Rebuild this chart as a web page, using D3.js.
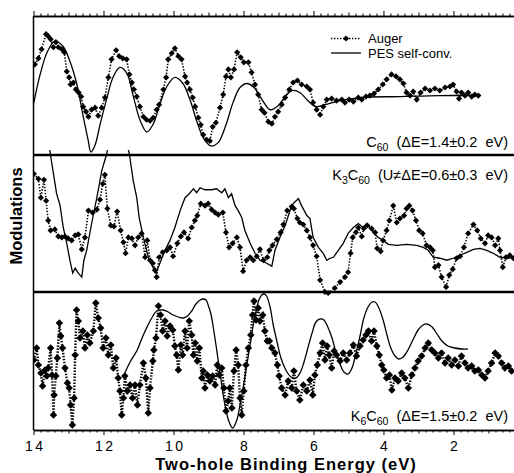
<!DOCTYPE html>
<html>
<head>
<meta charset="utf-8">
<script src="https://cdn.jsdelivr.net/npm/d3@7"></script>
<style>
body { margin:0; background:#fff; }
svg { display:block; font-family:"Liberation Sans", Arial, Helvetica, sans-serif; }
.auger { fill:none; stroke:#000; stroke-width:1.6; stroke-dasharray:1.4,1.6; }
.pes { fill:none; stroke:#000; stroke-width:1.3; }
.axis path, .axis line { stroke:#000; }
</style>
</head>
<body>
<div id="chart"></div>
<script>
const width = 514, height = 473;

// x tick labels (eV) and text
const xTickLabels = [14, 12, 10, 8, 6, 4, 2];
const legendLabels = ['Auger', 'PES self-conv.'];
const xTitle = 'Two-hole Binding Energy (eV)';
const yTitle = 'Modulations';
// [text, isSubscript]
const panelLabels = [
  [['C',0],['60',1],['  (ΔE=1.4±0.2  eV)',0]],
  [['K',0],['3',1],['C',0],['60',1],['  (U≠ΔE=0.6±0.3  eV)',0]],
  [['K',0],['6',1],['C',0],['60',1],['  (ΔE=1.5±0.2  eV)',0]]
];

// C60 : [energy eV, modulation a.u.]
const c60Auger = [[13.96,90],[13.86,96],[13.77,105],[13.64,120],[13.58,118],[13.51,115],[13.43,107],[13.36,112],[13.29,107],[13.19,105],[13.12,102],[13.05,83],[12.98,77],[12.94,70],[12.86,72],[12.79,65],[12.71,62],[12.64,58],[12.58,48],[12.50,43],[12.43,38],[12.34,45],[12.24,47],[12.15,39],[12.05,47],[11.96,57],[11.86,77],[11.77,95],[11.64,104],[11.55,98],[11.45,96],[11.34,95],[11.26,80],[11.19,72],[11.13,65],[11.05,58],[10.96,48],[10.86,38],[10.77,35],[10.67,34],[10.58,37],[10.48,45],[10.41,50],[10.29,65],[10.21,77],[10.15,95],[10.05,101],[9.96,106],[9.86,98],[9.77,95],[9.67,78],[9.61,72],[9.53,65],[9.45,57],[9.38,48],[9.29,37],[9.22,30],[9.15,20],[9.05,15],[8.96,14],[8.88,28],[8.79,32],[8.67,47],[8.58,60],[8.50,78],[8.43,85],[8.36,77],[8.27,85],[8.18,102],[8.08,97],[7.99,92],[7.86,92],[7.77,82],[7.67,70],[7.58,60],[7.48,45],[7.40,42],[7.29,33],[7.19,31],[7.10,38],[7.01,43],[6.91,50],[6.81,57],[6.69,65],[6.58,72],[6.46,74],[6.34,70],[6.19,68],[6.10,65],[6.01,52],[5.91,45],[5.81,40],[5.72,48],[5.62,55],[5.48,56],[5.34,54],[5.19,55],[5.10,52],[4.98,55],[4.86,53],[4.72,57],[4.62,55],[4.50,58],[4.39,59],[4.27,61],[4.15,65],[4.02,70],[3.91,75],[3.77,80],[3.64,78],[3.53,75],[3.43,71],[3.34,62],[3.24,59],[3.15,63],[3.05,55],[2.94,62],[2.81,66],[2.67,64],[2.53,66],[2.39,64],[2.24,67],[2.10,68],[2.01,70],[1.91,63],[1.84,56],[1.77,62],[1.67,59],[1.58,62],[1.48,58],[1.39,60],[1.29,59]];
const c60Pes = [[13.99,52],[13.81,80],[13.61,102],[13.39,113],[13.16,108],[12.96,93],[12.76,70],[12.59,40],[12.44,15],[12.36,3],[12.24,10],[12.10,30],[11.90,57],[11.73,77],[11.53,87],[11.33,81],[11.16,60],[10.96,35],[10.76,23],[10.59,30],[10.39,50],[10.19,68],[9.96,77],[9.73,71],[9.53,55],[9.33,33],[9.13,16],[8.93,9],[8.73,12],[8.50,30],[8.30,52],[8.10,67],[7.90,71],[7.70,67],[7.47,55],[7.24,45],[7.01,49],[6.81,58],[6.61,64],[6.39,62],[6.16,54],[5.93,48],[5.67,50],[5.24,54],[4.67,57],[3.53,58],[2.39,59],[1.47,59]];

// K3C60
const k3Auger = [[13.99,119],[13.86,114],[13.79,95],[13.70,113],[13.64,92],[13.58,72],[13.51,62],[13.39,63],[13.29,56],[13.19,55],[13.10,56],[13.01,54],[12.91,52],[12.81,57],[12.72,58],[12.62,43],[12.53,55],[12.43,82],[12.31,80],[12.19,83],[12.10,93],[12.02,109],[11.96,118],[11.89,84],[11.79,67],[11.70,66],[11.61,81],[11.51,62],[11.43,50],[11.37,39],[11.29,55],[11.19,54],[11.10,47],[11.01,55],[10.91,59],[10.81,35],[10.75,52],[10.67,32],[10.59,29],[10.53,22],[10.48,15],[10.41,35],[10.31,40],[10.19,42],[10.10,45],[10.01,36],[9.89,49],[9.79,56],[9.70,60],[9.58,54],[9.48,65],[9.39,72],[9.32,77],[9.22,89],[9.10,87],[9.01,89],[8.91,83],[8.81,80],[8.72,78],[8.59,80],[8.50,60],[8.41,45],[8.31,49],[8.19,55],[8.10,45],[8.01,21],[7.91,32],[7.81,35],[7.72,32],[7.62,36],[7.53,43],[7.43,32],[7.32,35],[7.26,42],[7.17,47],[7.05,53],[6.94,60],[6.86,68],[6.75,82],[6.62,86],[6.56,84],[6.46,74],[6.39,70],[6.29,68],[6.19,62],[6.10,55],[6.01,47],[5.91,36],[5.81,12],[5.67,0],[5.58,-1],[5.39,4],[5.24,10],[5.10,15],[5.01,20],[4.94,39],[4.88,55],[4.79,60],[4.72,65],[4.62,56],[4.56,64],[4.46,67],[4.34,64],[4.24,60],[4.18,44],[4.08,41],[4.01,52],[3.91,62],[3.83,72],[3.72,87],[3.62,70],[3.53,74],[3.41,77],[3.34,84],[3.26,87],[3.17,82],[3.07,72],[2.98,62],[2.88,59],[2.77,47],[2.67,45],[2.59,42],[2.53,25],[2.43,27],[2.34,15],[2.21,5],[2.12,17],[2.02,23],[1.91,34],[1.81,36],[1.70,45],[1.58,59],[1.43,68],[1.32,62],[1.22,54],[1.10,49],[1.01,57],[0.91,55],[0.81,47],[0.72,54],[0.67,42],[0.59,25],[0.50,35],[0.39,37],[0.29,34]];
const k3Pes = [[13.61,162],[13.51,137],[13.34,99],[13.24,87],[13.15,65],[13.05,49],[12.96,32],[12.88,19],[12.81,24],[12.72,19],[12.62,15],[12.56,32],[12.48,42],[12.34,69],[12.19,95],[12.05,122],[11.91,139],[11.81,157],[11.39,157],[11.26,139],[11.15,112],[11.05,95],[10.98,75],[10.86,55],[10.72,35],[10.59,25],[10.50,19],[10.39,29],[10.24,42],[10.10,52],[9.96,65],[9.81,82],[9.67,95],[9.55,99],[9.43,104],[9.34,100],[9.24,105],[9.10,103],[8.91,103],[8.77,104],[8.62,100],[8.53,104],[8.43,95],[8.34,99],[8.24,87],[8.15,82],[8.05,75],[7.96,62],[7.81,49],[7.67,39],[7.53,32],[7.39,30],[7.19,26],[7.10,42],[6.96,55],[6.81,67],[6.67,82],[6.58,89],[6.43,94],[6.34,87],[6.19,77],[6.10,74],[6.01,55],[5.86,45],[5.72,39],[5.62,32],[5.53,34],[5.43,35],[5.29,42],[5.15,49],[5.01,59],[4.86,65],[4.72,69],[4.58,65],[4.48,69],[4.29,60],[4.15,55],[4.01,52],[3.86,48],[3.62,47],[3.34,48],[3.05,47],[2.86,45],[2.72,42],[2.58,35],[2.39,34],[2.19,32],[2.01,34],[1.81,37],[1.62,40],[1.43,43],[1.24,44],[1.05,42],[0.86,39],[0.67,35],[0.43,34],[0.29,36]];

// K6C60
const k6Auger = [[13.99,70],[13.91,82],[13.86,65],[13.79,57],[13.74,44],[13.67,60],[13.62,54],[13.58,62],[13.51,82],[13.47,55],[13.43,15],[13.41,35],[13.36,54],[13.32,72],[13.26,107],[13.22,94],[13.17,82],[13.10,62],[13.03,47],[12.98,42],[12.94,25],[12.89,5],[12.84,32],[12.81,75],[12.77,120],[12.72,109],[12.67,92],[12.59,99],[12.53,82],[12.46,95],[12.39,87],[12.29,99],[12.22,127],[12.15,112],[12.08,102],[12.01,82],[11.93,92],[11.86,75],[11.79,85],[11.72,62],[11.64,72],[11.58,52],[11.53,39],[11.48,15],[11.43,32],[11.39,54],[11.32,39],[11.24,45],[11.17,32],[11.10,45],[11.03,25],[10.96,45],[10.86,67],[10.79,52],[10.72,17],[10.67,42],[10.59,69],[10.56,80],[10.50,92],[10.43,124],[10.37,115],[10.31,99],[10.24,109],[10.18,94],[10.10,104],[10.02,100],[9.96,84],[9.91,75],[9.86,60],[9.79,85],[9.74,75],[9.67,99],[9.61,82],[9.55,109],[9.48,95],[9.43,75],[9.38,87],[9.32,69],[9.26,82],[9.19,52],[9.15,59],[9.10,42],[9.03,55],[8.96,49],[8.88,54],[8.81,45],[8.75,65],[8.69,55],[8.62,62],[8.56,42],[8.50,19],[8.44,29],[8.39,42],[8.33,22],[8.27,59],[8.21,80],[8.15,65],[8.10,32],[8.05,15],[7.99,39],[7.93,65],[7.86,82],[7.79,95],[7.74,115],[7.70,129],[7.64,110],[7.58,122],[7.53,109],[7.45,115],[7.39,99],[7.32,89],[7.26,89],[7.19,82],[7.10,77],[7.03,65],[6.98,54],[6.91,42],[6.81,35],[6.72,49],[6.62,42],[6.56,59],[6.48,39],[6.39,30],[6.29,45],[6.19,39],[6.10,50],[6.02,35],[5.96,55],[5.89,65],[5.81,77],[5.74,87],[5.67,70],[5.61,84],[5.55,75],[5.48,62],[5.41,79],[5.34,75],[5.24,69],[5.15,77],[5.05,70],[4.96,77],[4.86,85],[4.77,74],[4.67,84],[4.58,90],[4.50,95],[4.43,99],[4.34,89],[4.27,99],[4.19,84],[4.12,75],[4.05,65],[3.99,60],[3.91,52],[3.83,55],[3.76,40],[3.67,52],[3.58,49],[3.48,57],[3.39,52],[3.29,42],[3.19,55],[3.10,62],[3.01,69],[2.91,74],[2.81,82],[2.72,87],[2.62,80],[2.53,77],[2.43,72],[2.34,77],[2.24,67],[2.15,72],[2.05,65],[1.96,70],[1.86,64],[1.77,74],[1.67,67],[1.58,62],[1.48,64],[1.39,59],[1.29,60],[1.19,55],[1.10,52],[1.01,59],[0.91,67],[0.81,77],[0.72,74],[0.62,67],[0.53,62],[0.43,64],[0.34,59]];
const k6Pes = [[11.39,57],[11.24,68],[11.05,79],[10.91,91],[10.77,102],[10.62,112],[10.48,119],[10.29,120],[10.15,118],[10.01,115],[9.86,113],[9.72,112],[9.60,114],[9.48,119],[9.36,126],[9.24,130],[9.15,131],[9.07,130],[9.01,125],[8.93,116],[8.86,102],[8.79,86],[8.72,69],[8.65,52],[8.58,35],[8.51,22],[8.43,10],[8.31,2],[8.19,10],[8.10,25],[8.01,42],[7.91,64],[7.81,85],[7.72,105],[7.62,122],[7.56,130],[7.48,135],[7.41,136],[7.34,134],[7.24,123],[7.15,105],[7.04,88],[6.93,72],[6.79,60],[6.64,53],[6.50,52],[6.37,58],[6.27,68],[6.16,82],[6.04,97],[5.93,108],[5.81,111],[5.70,110],[5.59,103],[5.47,92],[5.36,78],[5.24,66],[5.13,58],[5.01,56],[4.90,62],[4.79,76],[4.67,94],[4.56,112],[4.44,123],[4.33,128],[4.24,128],[4.13,122],[4.01,110],[3.90,95],[3.79,82],[3.67,74],[3.56,71],[3.44,73],[3.30,80],[3.16,90],[3.01,100],[2.87,105],[2.76,106],[2.61,103],[2.47,96],[2.33,89],[2.16,84],[1.96,82],[1.76,81],[1.59,81]];

const series = [
  {auger: c60Auger, pes: c60Pes, pesCurve: d3.curveCatmullRom, mark: 19, dotW: 1.6},
  {auger: k3Auger, pes: k3Pes, pesCurve: d3.curveLinear, mark: 19, dotW: 1.6},
  {auger: k6Auger, pes: k6Pes, pesCurve: d3.curveCatmullRom, mark: 28, dotW: 2.4}
];

// layout
const plotLeft = 33.5, plotRight = 514;
const panels = [
  {top: 16, bottom: 155, labelY: 147},
  {top: 155, bottom: 292, labelY: 180},
  {top: 292, bottom: 430, labelY: 421}
];

const x = d3.scaleLinear().domain([14, 0.27]).range([plotLeft, plotRight]);

const svg = d3.select('#chart').append('svg')
  .attr('width', width)
  .attr('height', height);

panels.forEach((p, i) => {
  const y = d3.scaleLinear().domain([0, 138]).range([p.bottom, p.top]);
  const s = series[i];
  const diamond = d3.symbol().type(d3.symbolSquare).size(s.mark);

  svg.append('clipPath').attr('id', 'clip' + i)
    .append('rect')
    .attr('x', plotLeft).attr('y', p.top - 5)
    .attr('width', plotRight - plotLeft).attr('height', p.bottom - p.top + 10);

  const g = svg.append('g').attr('clip-path', 'url(#clip' + i + ')');

  const augerLine = d3.line().x(d => x(d[0])).y(d => y(d[1]));
  const pesLine = d3.line().x(d => x(d[0])).y(d => y(d[1])).curve(s.pesCurve);

  g.append('path').datum(s.pes).attr('class', 'pes').attr('d', pesLine);
  g.append('path').datum(s.auger).attr('class', 'auger').attr('d', augerLine)
    .style('stroke-width', s.dotW);

  g.selectAll('path.mark')
    .data(s.auger)
    .enter()
      .append('path')
      .attr('class', 'mark')
      .attr('d', diamond)
      .attr('transform', d => 'translate(' + x(d[0]) + ',' + y(d[1]) + ') rotate(45)')
      .attr('fill', '#000');

  // panel label
  const t = svg.append('text')
    .attr('x', 508).attr('y', p.labelY)
    .attr('text-anchor', 'end')
    .attr('font-size', 14.5)
    .style('white-space', 'pre');
  let down = false;
  panelLabels[i].forEach(part => {
    const ts = t.append('tspan').text(part[0]);
    if (part[1] && !down) { ts.attr('dy', 4).attr('font-size', 10.5); down = true; }
    else if (part[1]) { ts.attr('font-size', 10.5); }
    else if (down) { ts.attr('dy', -4); down = false; }
  });
});

// separators between panels
[panels[0].bottom, panels[1].bottom].forEach(yy => {
  svg.append('line')
    .attr('x1', plotLeft).attr('x2', plotRight)
    .attr('y1', yy).attr('y2', yy)
    .attr('stroke', '#000').attr('stroke-width', 2.6);
});

// left frame line
svg.append('line')
  .attr('x1', plotLeft).attr('x2', plotLeft)
  .attr('y1', panels[0].top).attr('y2', panels[2].bottom)
  .attr('stroke', '#000').attr('stroke-width', 1.5);

// tick sets
const minorTicks = d3.range(1, 71).map(i => i * 0.2).filter(v => Math.abs(v - Math.round(v)) > 0.01);
const oddTicks = d3.range(1, 14, 2);

function drawAxis(gen, yy) {
  const g = svg.append('g').attr('class', 'axis').attr('transform', 'translate(0,' + yy + ')');
  g.append('g').call(gen(x).tickValues(minorTicks).tickSize(2.5).tickSizeOuter(0));
  g.append('g').call(gen(x).tickValues(oddTicks).tickSize(3.5).tickSizeOuter(0));
  g.selectAll('text').remove();
  g.selectAll('path').attr('stroke-width', 1.5);
  return g;
}

const topG = drawAxis(d3.axisTop, panels[0].top);
topG.append('g').call(d3.axisTop(x).tickValues(xTickLabels).tickSize(5).tickSizeOuter(0))
  .selectAll('text').remove();

const botG = drawAxis(d3.axisBottom, panels[2].bottom);
botG.append('g')
  .call(d3.axisBottom(x).tickValues(xTickLabels).tickSize(5).tickSizeOuter(0).tickPadding(6).tickFormat(d3.format('d')))
  .selectAll('text')
    .attr('font-size', 14)
    .attr('font-family', '"Liberation Sans", Arial, sans-serif')
    .attr('letter-spacing', '2.5px')
    .attr('dx', '1.2')
    .attr('fill', '#000');

// axis titles
svg.append('text')
  .attr('x', 286).attr('y', 470)
  .attr('text-anchor', 'middle')
  .attr('font-size', 16.5).attr('font-weight', 'bold')
  .attr('letter-spacing', '1px')
  .text(xTitle);

svg.append('text')
  .attr('transform', 'translate(22,216) rotate(-90)')
  .attr('text-anchor', 'middle')
  .attr('font-size', 16.5).attr('font-weight', 'bold')
  .text(yTitle);

// legend
const legendMark = d3.symbol().type(d3.symbolSquare).size(19);
const legend = svg.append('g');
legend.append('line')
  .attr('x1', 331).attr('x2', 361).attr('y1', 38.5).attr('y2', 38.5)
  .attr('class', 'auger');
legend.append('path')
  .attr('d', legendMark)
  .attr('transform', 'translate(346,38.5) rotate(45)');
legend.append('line')
  .attr('x1', 331).attr('x2', 361).attr('y1', 53).attr('y2', 53)
  .attr('stroke', '#000').attr('stroke-width', 1.3);
legend.selectAll('text')
  .data(legendLabels)
  .enter()
    .append('text')
    .attr('x', 368)
    .attr('y', (d, i) => 43 + i * 14.5)
    .attr('font-size', 13)
    .text(d => d);
</script>
</body>
</html>
